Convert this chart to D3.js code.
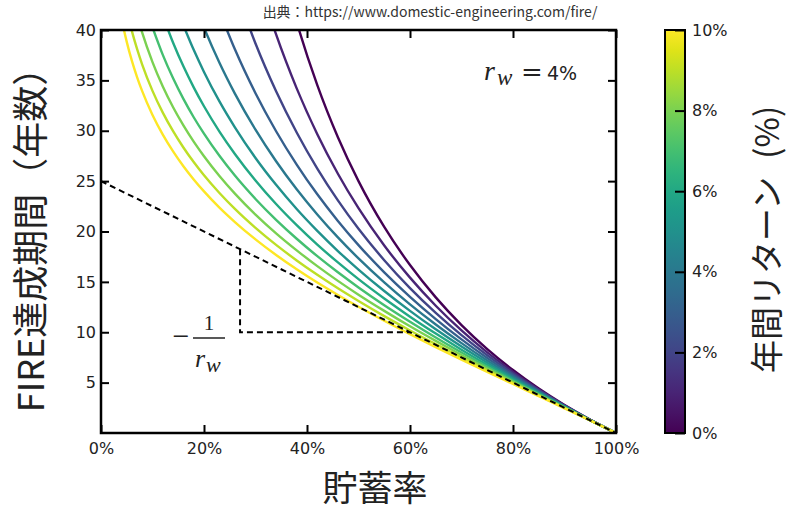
<!DOCTYPE html>
<html>
<head>
<meta charset="utf-8">
<script src="https://cdn.jsdelivr.net/npm/d3@7"></script>
<style>
  html, body { margin: 0; padding: 0; background: #fff; }
  svg { display: block; }
</style>
</head>
<body>
<svg id="chart" width="800" height="512"></svg>
<script>
// ---------- data ----------
const savingsRate = [0.03,0.04,0.05,0.06,0.07,0.08,0.10,0.12,0.14,0.16,0.18,0.20,0.23,0.26,0.30,0.34,0.38,0.42,0.46,0.50,0.55,0.60,0.65,0.70,0.75,0.80,0.85,0.90,0.95,1.00];
const N = null;
const years0  = [N,N,N,N,N,N,N,N,N,N,N,N,N,N,N,48.53,40.79,34.52,29.35,25.00,20.45,16.67,13.46,10.71,8.33,6.25,4.41,2.78,1.32,0];
const years1  = [N,N,N,N,N,N,N,N,N,N,N,N,N,N,45.95,39.56,34.21,29.66,25.73,22.31,18.61,15.42,12.63,10.18,8.00,6.06,4.32,2.74,1.31,0];
const years2  = [N,N,N,N,N,N,N,N,N,N,N,N,N,44.25,38.66,33.92,29.83,26.25,23.09,20.27,17.15,14.38,11.92,9.71,7.71,5.89,4.23,2.70,1.30,0];
const years3  = [N,N,N,N,N,N,N,N,N,N,N,N,41.86,38.08,33.72,29.95,26.64,23.69,21.05,18.65,15.95,13.52,11.31,9.29,7.44,5.73,4.14,2.67,1.29,0];
const years4  = [N,N,N,N,N,N,N,N,N,N,42.87,40.24,36.74,33.68,30.10,26.97,24.19,21.69,19.41,17.33,14.95,12.77,10.77,8.92,7.19,5.58,4.06,2.63,1.28,0];
const years5  = [N,N,N,N,N,N,N,N,N,40.46,38.03,35.84,32.91,30.34,27.30,24.63,22.23,20.06,18.06,16.22,14.09,12.12,10.29,8.58,6.97,5.44,3.99,2.60,1.27,0];
const years6  = [N,N,N,N,N,N,N,41.42,38.73,36.39,34.31,32.43,29.92,27.70,25.07,22.73,20.63,18.70,16.93,15.27,13.35,11.55,9.87,8.27,6.76,5.31,3.91,2.57,1.27,0];
const years7  = [N,N,N,N,N,N,40.26,37.53,35.20,33.16,31.34,29.71,27.51,25.55,23.23,21.16,19.28,17.55,15.95,14.45,12.69,11.05,9.48,7.99,6.56,5.18,3.84,2.54,1.26,0];
const years8  = [N,N,N,N,41.46,39.73,36.81,34.39,32.33,30.53,28.92,27.47,25.51,23.76,21.68,19.82,18.13,16.56,15.10,13.73,12.12,10.59,9.14,7.74,6.39,5.07,3.78,2.51,1.25,0];
const years9  = [N,N,41.98,39.89,38.12,36.57,33.96,31.80,29.96,28.34,26.89,25.58,23.82,22.24,20.36,18.67,17.13,15.70,14.36,13.10,11.60,10.18,8.82,7.50,6.22,4.96,3.72,2.48,1.24,0];
const years10 = [44.05,41.11,38.82,36.93,35.33,33.93,31.57,29.62,27.95,26.48,25.17,23.98,22.37,20.94,19.22,17.67,16.25,14.93,13.70,12.53,11.14,9.81,8.53,7.28,6.06,4.86,3.65,2.45,1.24,0];
const returnRates = [0,1,2,3,4,5,6,7,8,9,10];   // annual return (%)
const seriesYears = [years0,years1,years2,years3,years4,years5,years6,years7,years8,years9,years10];

const tangentLine = [[0,25],[1,0]];                 // slope -1/r_w
const slopeTriangle = [[0.27,18.25],[0.27,10],[0.60,10]];

const xTicks = [0,0.2,0.4,0.6,0.8,1.0];
const xTickLabels = ["0%","20%","40%","60%","80%","100%"];
const yTicks = [5,10,15,20,25,30,35,40];
const cbTicks = [0,2,4,6,8,10];
const cbTickLabels = ["0%","2%","4%","6%","8%","10%"];

const sourceText = "出典：https://www.domestic-engineering.com/fire/";
const xTitle = "貯蓄率";
const yTitle = "FIRE達成期間（年数）";
const cbTitle = "年間リターン";
const cbTitleUnit = "(%)";

// ---------- drawing ----------
const svg = d3.select("#chart");
const L = 101, R = 616, T = 30, B = 433;
const x = d3.scaleLinear().domain([0,1]).range([L,R]);
const y = d3.scaleLinear().domain([0,40]).range([B,T]);
const color = d3.scaleSequential(d3.interpolateViridis).domain([0,10]);
const sans = "'DejaVu Sans', Verdana, sans-serif";
const cjk = "'Noto Sans CJK JP', 'Noto Sans', sans-serif";
const serif = "'Liberation Serif', 'DejaVu Serif', serif";
const textCol = "#222";

svg.append("rect").attr("width",800).attr("height",512).attr("fill","#fff");

svg.append("defs").append("clipPath").attr("id","plotclip")
  .append("rect").attr("x",L).attr("y",T).attr("width",R-L).attr("height",B-T);

const line = d3.line().x(d=>x(d[0])).y(d=>y(d[1])).curve(d3.curveMonotoneX);
const gCurves = svg.append("g").attr("clip-path","url(#plotclip)");
returnRates.forEach((r,i)=>{
  const pts = savingsRate.map((s,j)=>[s, seriesYears[i][j]]).filter(d=>d[1]!==null);
  gCurves.append("path").attr("d", line(pts)).attr("fill","none")
    .attr("stroke", color(r)).attr("stroke-width",2.4);
});

const straight = d3.line().x(d=>x(d[0])).y(d=>y(d[1]));
gCurves.append("path").attr("d", straight(tangentLine)).attr("fill","none")
  .attr("stroke","#000").attr("stroke-width",2).attr("stroke-dasharray","6,4");
gCurves.append("path").attr("d", straight(slopeTriangle)).attr("fill","none")
  .attr("stroke","#000").attr("stroke-width",2).attr("stroke-dasharray","6,4");

// axes
const axB = svg.append("g").attr("transform",`translate(0,${B})`)
  .call(d3.axisBottom(x).tickValues(xTicks).tickFormat((d,i)=>xTickLabels[i]).tickSizeInner(-8).tickSizeOuter(0).tickPadding(10));
const axL = svg.append("g").attr("transform",`translate(${L},0)`)
  .call(d3.axisLeft(y).tickValues(yTicks).tickFormat(d3.format("d")).tickSizeInner(-8).tickSizeOuter(0).tickPadding(5));
const axT = svg.append("g").attr("transform",`translate(0,${T})`)
  .call(d3.axisTop(x).tickValues(xTicks).tickFormat("").tickSizeInner(-8).tickSizeOuter(0));
const axR = svg.append("g").attr("transform",`translate(${R},0)`)
  .call(d3.axisRight(y).tickValues(yTicks).tickFormat("").tickSizeInner(-8).tickSizeOuter(0));
[axB,axL,axT,axR].forEach(g=>{
  g.select(".domain").remove();
  g.selectAll(".tick line").attr("stroke","#000").attr("stroke-width",2);
  g.selectAll("text").attr("font-family",sans).attr("font-size",16).attr("fill",textCol);
});
svg.append("rect").attr("x",L).attr("y",T).attr("width",R-L).attr("height",B-T)
  .attr("fill","none").attr("stroke","#000").attr("stroke-width",2.5);

// annotations
svg.append("text").attr("x",181).attr("y",346).attr("text-anchor","middle")
  .attr("font-family",serif).attr("font-size",30).attr("fill",textCol).text("−");
svg.append("line").attr("x1",193).attr("x2",225).attr("y1",338).attr("y2",338)
  .attr("stroke",textCol).attr("stroke-width",1.5);
svg.append("text").attr("x",209).attr("y",330).attr("text-anchor","middle")
  .attr("font-family",serif).attr("font-size",21).attr("fill",textCol).text("1");
svg.append("text").attr("x",195).attr("y",367).attr("font-family",serif).attr("font-style","italic")
  .attr("font-size",26).attr("fill",textCol).text("r");
svg.append("text").attr("x",206).attr("y",372).attr("font-family",serif).attr("font-style","italic")
  .attr("font-size",22).attr("fill",textCol).text("w");

svg.append("text").attr("x",484).attr("y",80).attr("font-family",serif).attr("font-style","italic")
  .attr("font-size",28).attr("fill",textCol).text("r");
svg.append("text").attr("x",497).attr("y",85).attr("font-family",serif).attr("font-style","italic")
  .attr("font-size",23).attr("fill",textCol).text("w");
svg.append("text").attr("x",532).attr("y",81).attr("text-anchor","middle").attr("font-family","'DejaVu Serif', serif")
  .attr("font-size",26).attr("fill",textCol).text("=");
svg.append("text").attr("x",547).attr("y",80).attr("font-family",sans)
  .attr("font-size",19).attr("fill",textCol).text("4%");

// titles
svg.append("text").attr("x",430).attr("y",17).attr("text-anchor","middle")
  .attr("font-family",cjk).attr("font-size",14).attr("fill","#333").text(sourceText);
svg.append("text").attr("x",375).attr("y",501).attr("text-anchor","middle")
  .attr("font-family",cjk).attr("font-size",35).attr("fill",textCol).text(xTitle);
svg.append("text").attr("transform","translate(44,231) rotate(-90)").attr("text-anchor","middle")
  .attr("font-family",cjk).attr("font-size",36).attr("fill",textCol).text(yTitle);

// colorbar
const cbX = 665, cbW = 20;
const yc = d3.scaleLinear().domain([0,10]).range([B,T]);
const grad = svg.select("defs").append("linearGradient").attr("id","viridisGrad")
  .attr("x1",0).attr("y1",1).attr("x2",0).attr("y2",0);
d3.range(0,1.0001,0.05).forEach(t=>{
  grad.append("stop").attr("offset",t).attr("stop-color",d3.interpolateViridis(t));
});
svg.append("rect").attr("x",cbX).attr("y",T).attr("width",cbW).attr("height",B-T)
  .attr("fill","url(#viridisGrad)");
const axC = svg.append("g").attr("transform",`translate(${cbX+cbW},0)`)
  .call(d3.axisRight(yc).tickValues(cbTicks).tickFormat((d,i)=>cbTickLabels[i]).tickSizeInner(-10).tickSizeOuter(0).tickPadding(7));
axC.select(".domain").remove();
axC.selectAll(".tick line").attr("stroke","#000").attr("stroke-width",2);
axC.selectAll("text").attr("font-family",sans).attr("font-size",16).attr("fill",textCol);
svg.append("rect").attr("x",cbX).attr("y",T).attr("width",cbW).attr("height",B-T)
  .attr("fill","none").attr("stroke","#000").attr("stroke-width",2);

const cbt = svg.append("text").attr("transform","translate(779,373) rotate(-90)")
  .attr("font-family",cjk).attr("font-size",33).attr("fill",textCol);
cbt.append("tspan").text(cbTitle);
cbt.append("tspan").attr("dx",18).text(cbTitleUnit);
</script>
</body>
</html>
